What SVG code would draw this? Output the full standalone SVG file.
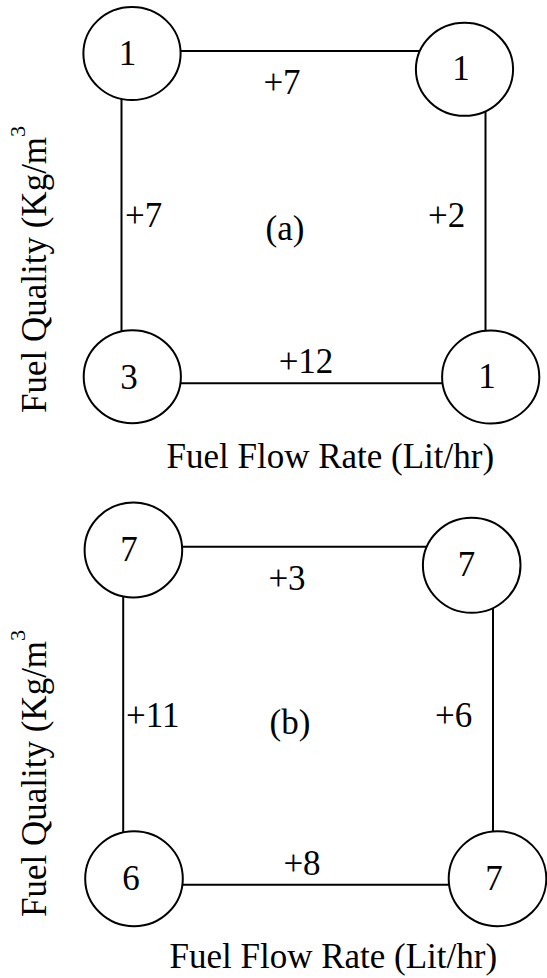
<svg xmlns="http://www.w3.org/2000/svg" width="547" height="978" viewBox="0 0 547 978">
<style>
.n{fill:#fff;stroke:#000;stroke-width:2}
.e{stroke:#000;stroke-width:2;fill:none}
text{font-family:"Liberation Serif","Times New Roman",serif;font-size:35px;fill:#000}
.m{text-anchor:middle}
</style>
<rect width="547" height="978" fill="#fff"/>
<g id="connectors">
<line class="e" x1="132" y1="51" x2="464.5" y2="51"/>
<line class="e" x1="121.5" y1="53.5" x2="121.5" y2="376.7"/>
<line class="e" x1="485.5" y1="69.3" x2="485.5" y2="377"/>
<line class="e" x1="132.3" y1="383.3" x2="490.7" y2="383.3"/>
<line class="e" x1="133.4" y1="546.7" x2="471.7" y2="546.7"/>
<line class="e" x1="123.2" y1="550" x2="123.2" y2="878.7"/>
<line class="e" x1="493" y1="565.3" x2="493" y2="878.7"/>
<line class="e" x1="134" y1="884.7" x2="497.5" y2="884.7"/>
</g>
<g id="a-tl"><ellipse class="n" cx="132" cy="53.5" rx="48.6" ry="46.5"/><text class="m" x="127.5" y="64.5">1</text></g>
<g id="a-tr"><ellipse class="n" cx="464.5" cy="69.3" rx="48.6" ry="46.5"/><text class="m" x="461" y="80">1</text></g>
<g id="a-bl"><ellipse class="n" cx="132.3" cy="376.7" rx="48.6" ry="46.5"/><text class="m" x="129" y="388.5">3</text></g>
<g id="a-br"><ellipse class="n" cx="490.7" cy="377" rx="48.6" ry="46.5"/><text class="m" x="487" y="388">1</text></g>
<g id="a-labels">
<text class="m" x="282" y="94.3">+7</text>
<text x="125" y="227">+7</text>
<text x="428" y="227">+2</text>
<text class="m" x="285" y="240">(a)</text>
<text class="m" x="306" y="373.3">+12</text>
<text x="166.5" y="468">Fuel Flow Rate (Lit/hr)</text>
<text transform="translate(46,413) rotate(-90)">Fuel Quality (Kg/m<tspan font-size="22" dy="-21">3</tspan></text>
</g>
<g id="b-tl"><ellipse class="n" cx="133.4" cy="550" rx="48.8" ry="47.5"/><text class="m" x="129" y="561">7</text></g>
<g id="b-tr"><ellipse class="n" cx="471.7" cy="565.3" rx="48.8" ry="47.5"/><text class="m" x="466.5" y="576">7</text></g>
<g id="b-bl"><ellipse class="n" cx="134" cy="878.7" rx="48.8" ry="47.5"/><text class="m" x="131" y="890">6</text></g>
<g id="b-br"><ellipse class="n" cx="497.5" cy="878.7" rx="48.8" ry="47.5"/><text class="m" x="494" y="889.5">7</text></g>
<g id="b-labels">
<text class="m" x="287" y="590">+3</text>
<text x="126" y="727">+11</text>
<text x="435" y="727">+6</text>
<text class="m" x="290" y="734">(b)</text>
<text class="m" x="302" y="875">+8</text>
<text x="169.5" y="968">Fuel Flow Rate (Lit/hr)</text>
<text transform="translate(46,917) rotate(-90)">Fuel Quality (Kg/m<tspan font-size="22" dy="-21">3</tspan></text>
</g>
</svg>
